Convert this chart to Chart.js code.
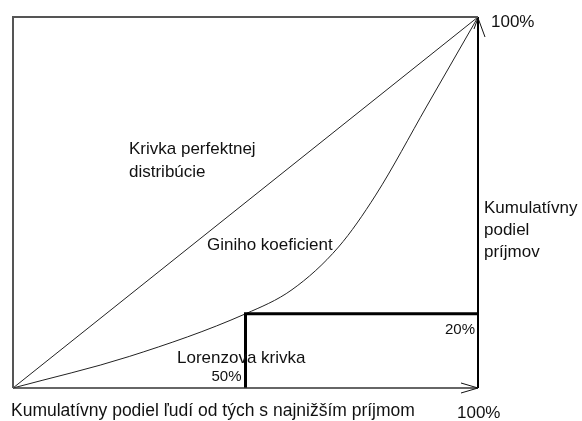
<!DOCTYPE html>
<html>
<head>
<meta charset="utf-8">
<script src="https://cdn.jsdelivr.net/npm/chart.js@4/dist/chart.umd.min.js"></script>
<style>
  html, body { margin: 0; padding: 0; background: #fff; }
  canvas { display: block; }
</style>
</head>
<body>
<canvas id="gini" width="582" height="421"></canvas>
<script>
// cumulative share of people (%) and cumulative share of income (%)
const lorenzX = [0, 25, 50, 60, 70, 78, 89, 100];
const lorenzY = [0, 8.5, 20, 26.5, 38, 52, 76, 100];
const perfectX = [0, 100];
const perfectY = [0, 100];
const markX = 50;   // 50% of people
const markY = 20;   // get 20% of income

const pts = (xs, ys) => xs.map((x, i) => ({ x: x, y: ys[i] }));

function lineSet(data, color, width) {
    return {
        data: data,
        showLine: true,
        borderColor: color,
        borderWidth: width,
        pointRadius: 0,
        fill: false,
        clip: false
    };
}

const labelsPlugin = {
    id: "labels",
    afterDatasetsDraw(chart) {
        const c = chart.ctx;
        const xs = chart.scales.x, ys = chart.scales.y;
        const x100 = xs.getPixelForValue(100), y0 = ys.getPixelForValue(0), y100 = ys.getPixelForValue(100);

        // arrow heads
        c.save();
        c.strokeStyle = "#111";
        c.lineWidth = 1;
        c.beginPath();
        c.moveTo(x100 - 4, y100 + 12);
        c.lineTo(x100, y100 + 1);
        c.lineTo(x100 + 7, y100 + 20);
        c.moveTo(x100 - 17, y0 - 5);
        c.lineTo(x100, y0);
        c.lineTo(x100 - 17, y0 + 5);
        c.stroke();

        c.fillStyle = "#111";
        c.font = "17px 'Liberation Sans', Arial, sans-serif";
        c.textBaseline = "middle";
        c.textAlign = "left";
        c.fillText("100%", 491, 22);
        c.fillText("Krivka perfektnej", 129, 149);
        c.fillText("distribúcie", 129, 172);
        c.fillText("Giniho koeficient", 207, 245);
        c.fillText("Lorenzova krivka", 177, 358);
        c.fillText("Kumulatívny", 484, 208);
        c.fillText("podiel", 484, 230);
        c.fillText("príjmov", 484, 252);
        c.font = "17.5px 'Liberation Sans', Arial, sans-serif";
        c.fillText("Kumulatívny podiel ľudí od tých s najnižším príjmom", 11, 411);
        c.font = "17px 'Liberation Sans', Arial, sans-serif";
        c.fillText("100%", 457, 413);
        c.font = "15px 'Liberation Sans', Arial, sans-serif";
        c.textAlign = "right";
        c.fillText("50%", xs.getPixelForValue(markX) - 4, 377);
        c.fillText("20%", x100 - 3, 330);
        c.restore();
    }
};

new Chart(document.getElementById("gini").getContext("2d"), {
    type: "scatter",
    data: {
        datasets: [
            lineSet(pts([0, 0, 100], [0, 100, 100]), "#555", 2),
            lineSet(pts([0, 100], [0, 0]), "#333", 1.5),
            lineSet(pts([100, 100], [0, 100]), "#000", 2),
            lineSet(pts([markX, markX, 100], [0, markY, markY]), "#000", 3),
            lineSet(pts(perfectX, perfectY), "#222", 1),
            Object.assign(lineSet(pts(lorenzX, lorenzY), "#222", 1), { cubicInterpolationMode: "monotone" })
        ]
    },
    options: {
        responsive: false,
        animation: false,
        layout: { padding: { left: 13, top: 17, right: 104, bottom: 33 } },
        scales: {
            x: { type: "linear", min: 0, max: 100, display: false },
            y: { type: "linear", min: 0, max: 100, display: false }
        },
        plugins: { legend: { display: false }, tooltip: { enabled: false } }
    },
    plugins: [labelsPlugin]
});
</script>
</body>
</html>
